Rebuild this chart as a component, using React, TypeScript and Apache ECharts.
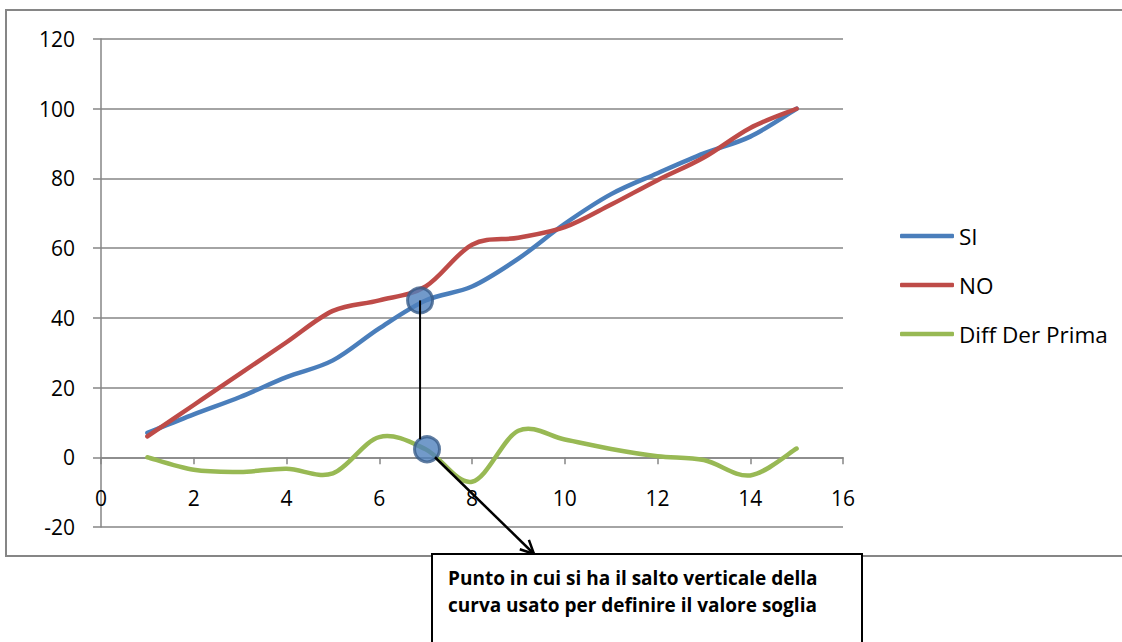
import React, { useEffect, useRef } from "react";
import * as echarts from "echarts";

const xValues = [1, 2, 3, 4, 5, 6, 7, 8, 9, 10, 11, 12, 13, 14, 15];
const siValues = [7, 12.3, 17.3, 23, 27.8, 37, 45, 49, 57, 67, 75.5, 81.5, 87.2, 92, 100];
const noValues = [6, 15, 24, 33, 42, 45, 49, 61, 63, 66, 72.5, 79.5, 86, 94.5, 100];
const diffValues = [0, -3.6, -4.2, -3.3, -4.6, 5.8, 2.3, -7, 7.6, 5.1, 2.4, 0.3, -0.8, -5.2, 2.5];
const markerPoints = [
  [6.88, 45],
  [7.03, 2.3],
];
const seriesNames = ["SI", "NO", "Diff Der Prima"];
const colors = ["#4a7ebb", "#be4b48", "#98b954"];
const noteLines = [
  "Punto in cui si ha il salto verticale della",
  "curva usato per definire il valore soglia",
];

const FONT = "Open Sans";

function catmullPath(pts: number[][]): string {
  const n = pts.length;
  let d = `M${pts[0][0]},${pts[0][1]}`;
  for (let i = 0; i < n - 1; i++) {
    const p0 = pts[Math.max(0, i - 1)];
    const p1 = pts[i];
    const p2 = pts[i + 1];
    const p3 = pts[Math.min(n - 1, i + 2)];
    const c1x = p1[0] + (p2[0] - p0[0]) / 6;
    const c1y = p1[1] + (p2[1] - p0[1]) / 6;
    const c2x = p2[0] - (p3[0] - p1[0]) / 6;
    const c2y = p2[1] - (p3[1] - p1[1]) / 6;
    d += ` C${c1x},${c1y} ${c2x},${c2y} ${p2[0]},${p2[1]}`;
  }
  return d;
}

export default function App() {
  const ref = useRef<HTMLDivElement>(null);
  useEffect(() => {
    if (!ref.current) return;
    const chart = echarts.init(ref.current, null, { renderer: "svg" });
    const allValues = [siValues, noValues, diffValues];
    const plotHeight = 642 - 39 - 115;
    const zeroOffset = -(20 / 140) * plotHeight;
    const option: any = {
      animation: false,
      backgroundColor: "#ffffff",
      textStyle: { fontFamily: FONT },
      grid: { left: 101, right: 279, top: 39, bottom: 115, containLabel: false },
      legend: {
        data: seriesNames,
        orient: "vertical",
        left: 895,
        top: 219,
        icon: "roundRect",
        itemWidth: 54,
        itemHeight: 4.5,
        itemGap: 25,
        textStyle: { fontFamily: FONT, fontSize: 22.5, color: "#000", lineHeight: 24 },
      },
      xAxis: {
        type: "value",
        min: 0,
        max: 16,
        interval: 2,
        offset: zeroOffset,
        axisLine: { show: true, onZero: false, lineStyle: { color: "#868686", width: 1.5 } },
        axisTick: { show: true, inside: false, length: 7, lineStyle: { color: "#868686", width: 1.5 } },
        axisLabel: { fontFamily: FONT, fontSize: 21, color: "#000", margin: 30 },
        splitLine: { show: false },
      },
      yAxis: {
        type: "value",
        min: -20,
        max: 120,
        interval: 20,
        axisLine: { show: true, onZero: false, lineStyle: { color: "#868686", width: 1.5 } },
        axisTick: { show: true, inside: false, length: 8, lineStyle: { color: "#868686", width: 1.5 } },
        axisLabel: { fontFamily: FONT, fontSize: 21, color: "#000", margin: 26 },
        splitLine: { show: true, lineStyle: { color: "#868686", width: 1.5 } },
      },
      series: [
        ...seriesNames.map((name, i) => ({
          name,
          type: "custom",
          coordinateSystem: "cartesian2d",
          data: [[xValues[0], allValues[i][0]]],
          itemStyle: { color: colors[i] },
          z: 2,
          renderItem: (params: any, api: any) => {
            const pts = xValues.map((x, j) => api.coord([x, allValues[i][j]]));
            return {
              type: "path",
              shape: { pathData: catmullPath(pts) },
              style: {
                fill: "none",
                stroke: colors[i],
                lineWidth: 4.5,
                lineCap: "round",
                lineJoin: "round",
              },
            };
          },
        })),
        {
          name: "marker",
          type: "scatter",
          data: markerPoints,
          symbol: "circle",
          symbolSize: 25,
          itemStyle: { color: "#4f81bd", borderColor: "#385d8a", borderWidth: 3 },
          z: 5,
        },
      ],
    };
    chart.setOption(option);
    const p1 = chart.convertToPixel({ gridIndex: 0 }, markerPoints[0]) as number[];
    const p2 = chart.convertToPixel({ gridIndex: 0 }, markerPoints[1]) as number[];
    const boxX = 432;
    const boxY = 554;
    const tip = [534, 554];
    const start = [p2[0] + 8, p2[1] + 8];
    const dx = tip[0] - start[0];
    const dy = tip[1] - start[1];
    const len = Math.sqrt(dx * dx + dy * dy);
    const ux = dx / len;
    const uy = dy / len;
    const ah = 15;
    const ang = Math.PI / 7;
    const rot = (a: number) => [
      tip[0] - ah * (ux * Math.cos(a) - uy * Math.sin(a)),
      tip[1] - ah * (ux * Math.sin(a) + uy * Math.cos(a)),
    ];
    chart.setOption({
      graphic: [
        {
          type: "rect",
          shape: { x: 6, y: 10, width: 1130, height: 546 },
          style: { fill: "none", stroke: "#868686", lineWidth: 2 },
          z: -10,
          silent: true,
        },
        {
          type: "line",
          shape: { x1: p1[0], y1: p1[1], x2: p1[0], y2: p2[1] - 10 },
          style: { stroke: "#000", lineWidth: 2 },
          z: 10,
        },
        {
          type: "line",
          shape: { x1: start[0], y1: start[1], x2: tip[0], y2: tip[1] },
          style: { stroke: "#000", lineWidth: 2.5 },
          z: 10,
        },
        {
          type: "polyline",
          shape: { points: [rot(ang), tip, rot(-ang)] },
          style: { stroke: "#000", lineWidth: 2.5, fill: "none" },
          z: 10,
        },
        {
          type: "rect",
          shape: { x: boxX, y: boxY, width: 430, height: 120 },
          style: { fill: "#fff", stroke: "#000", lineWidth: 2 },
          z: 11,
        },
        {
          type: "text",
          x: boxX + 16,
          y: boxY + 10,
          style: {
            text: noteLines.join("\n"),
            fontFamily: FONT,
            fontSize: 19,
            fontWeight: "bold",
            lineHeight: 27,
            fill: "#000",
          },
          z: 12,
        },
      ],
    });
    return () => chart.dispose();
  }, []);
  return (
    <div
      ref={ref}
      style={{ position: "fixed", left: 0, top: 0, width: 1122, height: 642, background: "#fff" }}
    />
  );
}
